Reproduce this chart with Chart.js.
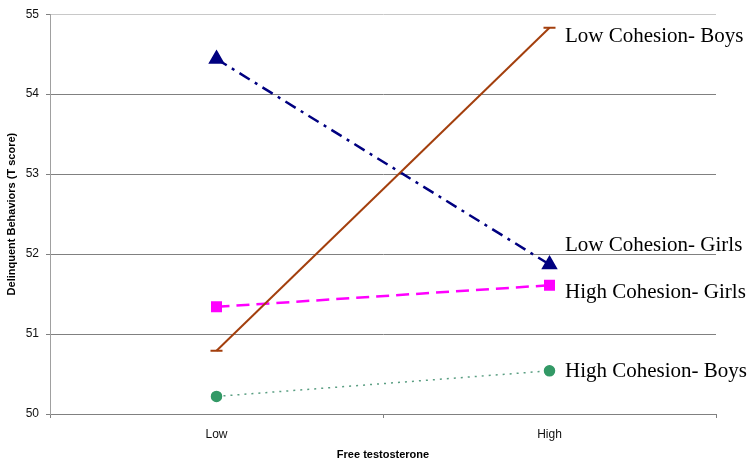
<!DOCTYPE html>
<html>
<head>
<meta charset="utf-8">
<script src="https://cdn.jsdelivr.net/npm/chart.js@4"></script>
<style>
  html, body { margin: 0; padding: 0; background: #fff; }
  #wrap { width: 755px; height: 467px; }
</style>
</head>
<body>
<div id="wrap"><canvas id="grafica"></canvas></div>
<script>
// datos
const categorias = ['Low', 'High'];
const lowCohesionBoys = [50.79, 54.83];
const lowCohesionGirls = [54.44, 51.87];
const highCohesionGirls = [51.34, 51.61];
const highCohesionBoys = [50.22, 50.54];
const nombres = ['Low Cohesion- Boys', 'Low Cohesion- Girls', 'High Cohesion- Girls', 'High Cohesion- Boys'];
const yTicks = [50, 51, 52, 53, 54, 55];

// etiquetas a la derecha de cada serie
const etiquetas = {
  id: 'etiquetas',
  afterDatasetsDraw(chart) {
    const c = chart.ctx;
    const y = chart.scales.y;
    const desplaza = [9, -19, 7, 1];
    c.save();
    c.font = '21px "Liberation Serif", "Times New Roman", serif';
    c.fillStyle = '#000';
    c.textBaseline = 'middle';
    c.textAlign = 'left';
    chart.data.datasets.forEach((ds, i) => {
      const py = y.getPixelForValue(ds.data[1]) + desplaza[i];
      c.fillText(nombres[i], 565, py);
    });
    c.restore();
  }
};

let ctx = document.getElementById('grafica').getContext('2d');
let myChart = new Chart(ctx, {
  type: 'line',
  data: {
    labels: categorias,
    datasets: [{
      label: nombres[0],
      data: lowCohesionBoys,
      borderColor: '#A33F0D',
      backgroundColor: '#A33F0D',
      borderWidth: 2,
      pointStyle: 'line',
      pointRadius: 6,
      pointBorderWidth: 2,
      tension: 0
    }, {
      label: nombres[1],
      data: lowCohesionGirls,
      borderColor: '#000080',
      backgroundColor: '#000080',
      borderWidth: 2.5,
      borderDash: [12, 6, 3, 6],
      pointStyle: 'triangle',
      pointRadius: 7,
      tension: 0
    }, {
      label: nombres[2],
      data: highCohesionGirls,
      borderColor: '#FF00FF',
      backgroundColor: '#FF00FF',
      borderWidth: 2.5,
      borderDash: [13, 7],
      pointStyle: 'rect',
      pointRadius: 6,
      tension: 0
    }, {
      label: nombres[3],
      data: highCohesionBoys,
      borderColor: '#5A9E82',
      backgroundColor: '#339966',
      pointBorderColor: '#339966',
      borderWidth: 1.5,
      borderDash: [2, 5],
      pointStyle: 'circle',
      pointRadius: 5,
      tension: 0
    }]
  },
  options: {
    responsive: true,
    maintainAspectRatio: false,
    animation: false,
    layout: { padding: { top: 13, right: 39, left: 0, bottom: 0 } },
    plugins: {
      legend: { display: false },
      tooltip: { enabled: false }
    },
    scales: {
      x: {
        offset: true,
        grid: {
          offset: true,
          drawOnChartArea: true,
          color: (c) => c.index === 2 ? '#c8c8c8' : 'rgba(0,0,0,0)',
          tickColor: '#808080',
          tickLength: 4
        },
        border: { color: '#808080', width: 1 },
        ticks: {
          color: '#111',
          padding: 9,
          font: { family: '"Liberation Sans", Arial, sans-serif', size: 12 }
        },
        title: {
          display: true,
          text: 'Free testosterone',
          color: '#000',
          padding: { top: 5, bottom: 5 },
          font: { family: '"Liberation Sans", Arial, sans-serif', size: 11, weight: 'bold' }
        },
        afterFit: (s) => { s.height = 53; }
      },
      y: {
        min: 50,
        max: 55,
        afterBuildTicks: (s) => { s.ticks = yTicks.map(v => ({ value: v })); },
        grid: {
          color: (c) => c.tick && c.tick.value === 55 ? '#c8c8c8' : '#808080',
          tickColor: '#808080',
          tickLength: 4
        },
        border: { color: '#a0a0a0', width: 1 },
        ticks: {
          color: '#111',
          padding: 7,
          font: { family: '"Liberation Sans", Arial, sans-serif', size: 12 }
        },
        title: {
          display: true,
          text: 'Delinquent Behaviors (T score)',
          color: '#000',
          padding: { top: 5, bottom: 5 },
          font: { family: '"Liberation Sans", Arial, sans-serif', size: 11, weight: 'bold' }
        },
        afterFit: (s) => { s.width = 50; }
      }
    }
  },
  plugins: [etiquetas]
});
</script>
</body>
</html>
